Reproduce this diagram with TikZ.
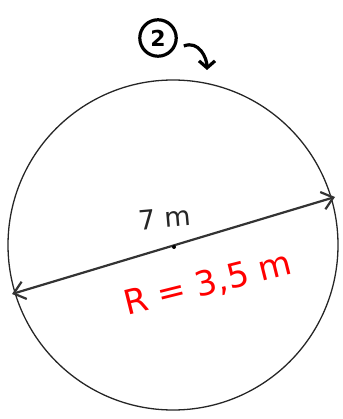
\documentclass[tikz,border=0pt]{standalone}
\usepackage{fontspec}
\setmainfont{DejaVu Sans}
\usetikzlibrary{arrows.meta}
\begin{document}
\begin{tikzpicture}[x=1pt,y=-1pt,
  pen/.style={draw=black!85, line width=1.3pt},
  dimline/.style={line width=2.2pt, black!80, {Straight Barb[length=11pt,width=18pt]}-{Straight Barb[length=11pt,width=18pt]}},
  hand/.style={font=\fontsize{27}{30}\selectfont, text=black!85},
  redtext/.style={text=red, font=\fontsize{34}{38}\selectfont}]
\useasboundingbox (0,0) rectangle (342,419);
\node[pen, circle, minimum size=330pt, inner sep=0pt] (c) at (173,245) {};
\coordinate (a) at (12,294);
\coordinate (b) at (335,197);
\draw[dimline] (a) -- (b);
\fill (174,247) circle (2pt);
\node[hand, rotate=5] (d) at (165,218) {7 m};
\node[redtext, rotate=14, anchor=center] (r) at (208,284) {R = 3,5 m};
\node[draw, line width=3.2pt, circle, inner sep=5pt, font=\bfseries\fontsize{22}{24}\selectfont] (two) at (158,38) {2};
\coordinate (e) at (207,70);
\draw[line width=3.2pt, -{Straight Barb[length=7pt,width=16pt]}] (two.east) ++(6,8) .. controls +(15,-6) and +(0,-12) .. (e);
\end{tikzpicture}
\end{document}
